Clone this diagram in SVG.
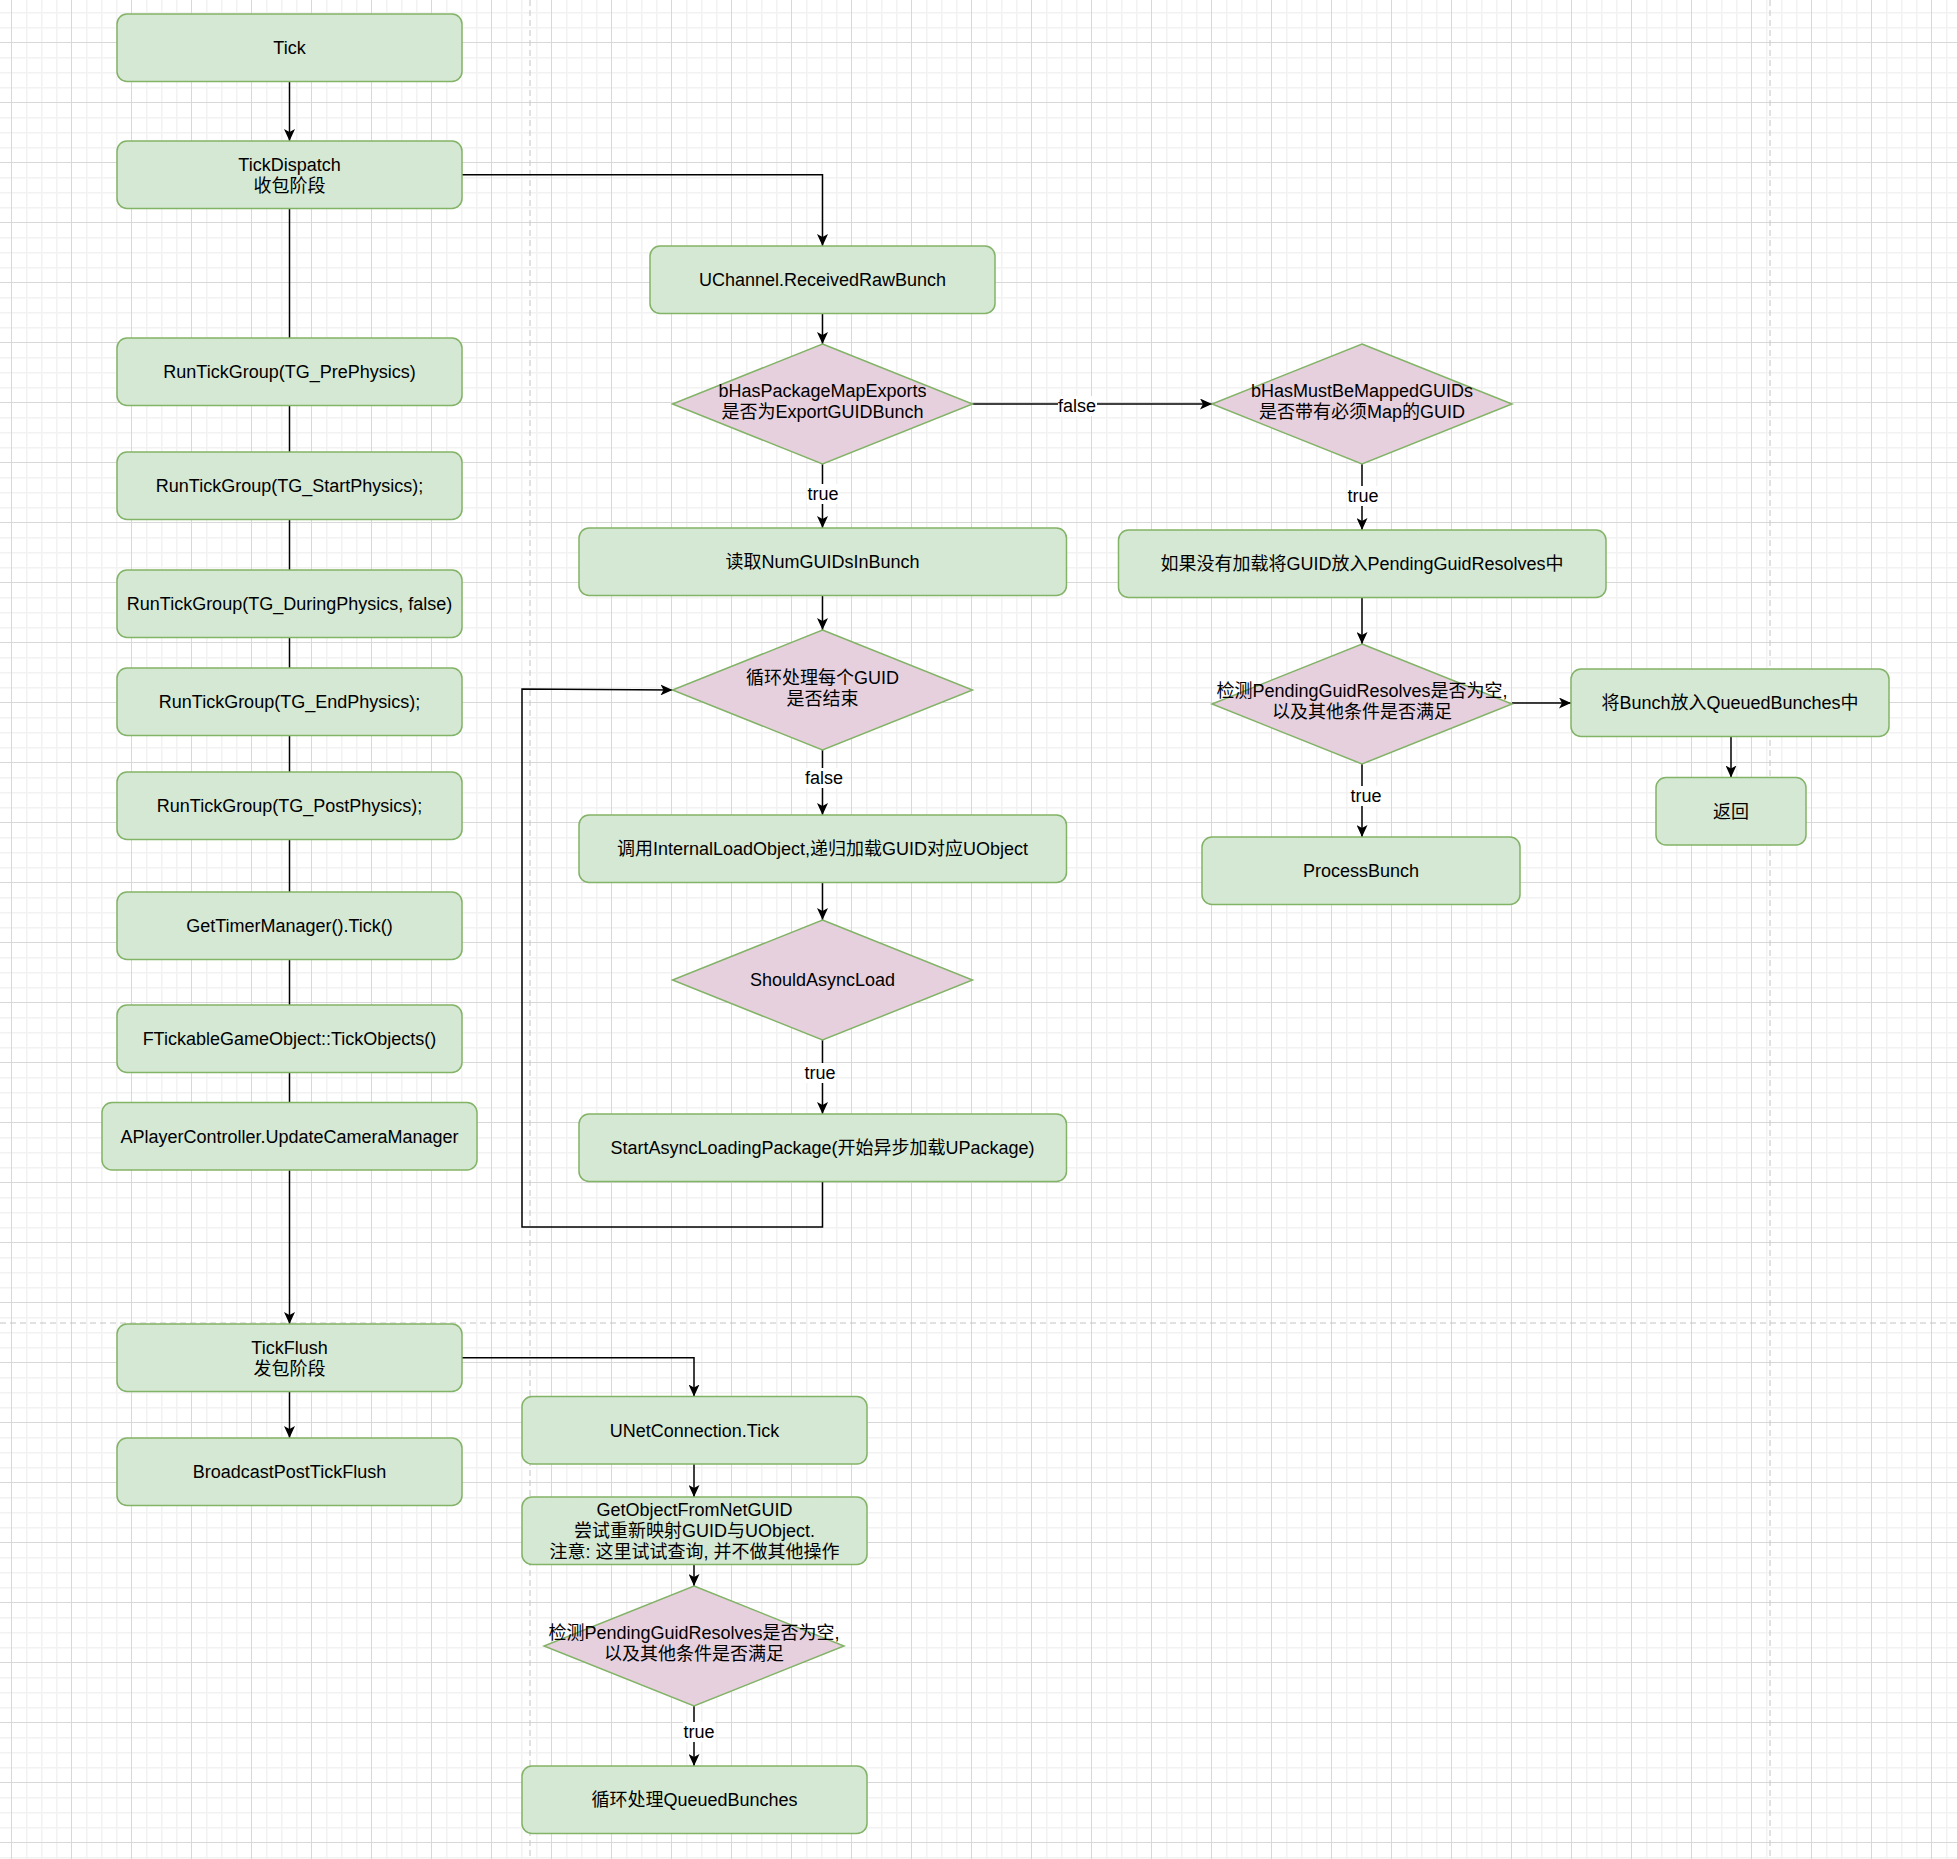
<svg xmlns="http://www.w3.org/2000/svg" width="1957" height="1859" viewBox="0 0 1957 1859">
<defs>
<pattern id="grid" x="11" y="42" width="60" height="60" patternUnits="userSpaceOnUse">
<rect width="60" height="60" fill="#ffffff"/>
<rect x="15" y="0" width="1.5" height="60" fill="#f2f2f2"/>
<rect x="30" y="0" width="1.5" height="60" fill="#f2f2f2"/>
<rect x="45" y="0" width="1.5" height="60" fill="#f2f2f2"/>
<rect x="0" y="15" width="60" height="1.5" fill="#f2f2f2"/>
<rect x="0" y="30" width="60" height="1.5" fill="#f2f2f2"/>
<rect x="0" y="45" width="60" height="1.5" fill="#f2f2f2"/>
<rect x="0" y="0" width="1" height="60" fill="#d8d8d8"/>
<rect x="0" y="0" width="60" height="1" fill="#d8d8d8"/>
</pattern>
<marker id="arr" viewBox="0 0 12 11" markerWidth="12" markerHeight="11" refX="12" refY="5.5" orient="auto" markerUnits="userSpaceOnUse">
<path d="M0,0 L12,5.5 L0,11 L3,5.5 Z" fill="#000"/>
</marker>
</defs>
<style>
.box{fill:#d5e8d4;stroke:#82b366;stroke-width:1.5}
.dia{fill:#e6d0de;stroke:#82b366;stroke-width:1.5}
text{font-family:"Liberation Sans","Noto Sans CJK SC",sans-serif;font-size:18px;text-anchor:middle;fill:#000}
.edge{fill:none;stroke:#000;stroke-width:1.5}
.arrow{marker-end:url(#arr)}
.lbl{fill:#ffffff}
.page{stroke:#c4c4c4;stroke-width:1;stroke-dasharray:6 4;fill:none}
</style>
<rect width="1957" height="1859" fill="url(#grid)"/>
<g id="page-breaks">
<line class="page" x1="530" y1="0" x2="530" y2="1859"/>
<line class="page" x1="1770" y1="0" x2="1770" y2="1859"/>
<line class="page" x1="0" y1="1323" x2="1957" y2="1323"/>
</g>
<g id="connectors">
<path class="edge arrow" d="M289.5,81.5 L289.5,141"/>
<path class="edge arrow" d="M462,174.75 L822.5,174.75 L822.5,246"/>
<path class="edge arrow" d="M289.5,208.5 L289.5,1324"/>
<path class="edge arrow" d="M289.5,1391.5 L289.5,1438"/>
<path class="edge arrow" d="M462,1357.75 L694,1357.75 L694,1396.5"/>
<path class="edge arrow" d="M694,1464 L694,1497"/>
<path class="edge arrow" d="M694,1564.5 L694,1586"/>
<path class="edge arrow" d="M694,1706 L694,1766"/>
<path class="edge arrow" d="M822.5,313.5 L822.5,344"/>
<path class="edge arrow" d="M822.5,464 L822.5,528"/>
<path class="edge arrow" d="M972.5,404 L1212,404"/>
<path class="edge arrow" d="M822.5,595.5 L822.5,630"/>
<path class="edge arrow" d="M822.5,750 L822.5,815"/>
<path class="edge arrow" d="M822.5,882.5 L822.5,920"/>
<path class="edge arrow" d="M822.5,1040 L822.5,1114"/>
<path class="edge arrow" d="M822.5,1182 L822.5,1227 L522,1227 L522,689 L672.5,690"/>
<path class="edge arrow" d="M1362,464 L1362,530"/>
<path class="edge arrow" d="M1362,598 L1362,644"/>
<path class="edge arrow" d="M1512,703 L1571,703"/>
<path class="edge arrow" d="M1731,736.5 L1731,777.5"/>
<path class="edge arrow" d="M1362,764 L1362,837"/>
<g id="edge-labels">
<rect class="lbl" x="807" y="484" width="32" height="20"/>
<text x="823" y="500">true</text>
<rect class="lbl" x="1058" y="396" width="39" height="20"/>
<text x="1077" y="412">false</text>
<rect class="lbl" x="1347" y="486" width="32" height="20"/>
<text x="1363" y="502">true</text>
<rect class="lbl" x="804" y="768" width="39" height="20"/>
<text x="824" y="784">false</text>
<rect class="lbl" x="804" y="1063" width="32" height="20"/>
<text x="820" y="1079">true</text>
<rect class="lbl" x="1350" y="786" width="32" height="20"/>
<text x="1366" y="802">true</text>
<rect class="lbl" x="683" y="1722" width="32" height="20"/>
<text x="699" y="1738">true</text>
</g>
</g>
<g id="n-tick"><rect class="box" x="117" y="14" width="345" height="67.5" rx="10"/><text x="289.5" y="54">Tick</text></g>
<g id="n-tickdispatch"><rect class="box" x="117" y="141" width="345" height="67.5" rx="10"/><text x="289.5" y="170.5">TickDispatch</text><text x="289.5" y="191.5">收包阶段</text></g>
<g id="n-prephysics"><rect class="box" x="117" y="338" width="345" height="67.5" rx="10"/><text x="289.5" y="378">RunTickGroup(TG_PrePhysics)</text></g>
<g id="n-startphysics"><rect class="box" x="117" y="452" width="345" height="67.5" rx="10"/><text x="289.5" y="492">RunTickGroup(TG_StartPhysics);</text></g>
<g id="n-duringphysics"><rect class="box" x="117" y="570" width="345" height="67.5" rx="10"/><text x="289.5" y="610">RunTickGroup(TG_DuringPhysics, false)</text></g>
<g id="n-endphysics"><rect class="box" x="117" y="668" width="345" height="67.5" rx="10"/><text x="289.5" y="708">RunTickGroup(TG_EndPhysics);</text></g>
<g id="n-postphysics"><rect class="box" x="117" y="772" width="345" height="67.5" rx="10"/><text x="289.5" y="812">RunTickGroup(TG_PostPhysics);</text></g>
<g id="n-timer"><rect class="box" x="117" y="892" width="345" height="67.5" rx="10"/><text x="289.5" y="932">GetTimerManager().Tick()</text></g>
<g id="n-tickable"><rect class="box" x="117" y="1005" width="345" height="67.5" rx="10"/><text x="289.5" y="1045">FTickableGameObject::TickObjects()</text></g>
<g id="n-camera"><rect class="box" x="102" y="1102.5" width="375" height="67.5" rx="10"/><text x="289.5" y="1142.5">APlayerController.UpdateCameraManager</text></g>
<g id="n-tickflush"><rect class="box" x="117" y="1324" width="345" height="67.5" rx="10"/><text x="289.5" y="1353.5">TickFlush</text><text x="289.5" y="1374.5">发包阶段</text></g>
<g id="n-broadcast"><rect class="box" x="117" y="1438" width="345" height="67.5" rx="10"/><text x="289.5" y="1478">BroadcastPostTickFlush</text></g>
<g id="n-netconn"><rect class="box" x="522" y="1396.5" width="345" height="67.5" rx="10"/><text x="694.5" y="1436.5">UNetConnection.Tick</text></g>
<g id="n-getobject"><rect class="box" x="522" y="1497" width="345" height="67.5" rx="10"/><text x="694.5" y="1516">GetObjectFromNetGUID</text><text x="694.5" y="1537">尝试重新映射GUID与UObject.</text><text x="694.5" y="1558">注意: 这里试试查询, 并不做其他操作</text></g>
<g id="n-check2"><polygon class="dia" points="694,1586 844,1646 694,1706 544,1646"/><text x="694" y="1639">检测PendingGuidResolves是否为空,</text><text x="694" y="1660">以及其他条件是否满足</text></g>
<g id="n-queued"><rect class="box" x="522" y="1766" width="345" height="67.5" rx="10"/><text x="694.5" y="1806">循环处理QueuedBunches</text></g>
<g id="n-uchannel"><rect class="box" x="650" y="246" width="345" height="67.5" rx="10"/><text x="822.5" y="286">UChannel.ReceivedRawBunch</text></g>
<g id="n-haspkg"><polygon class="dia" points="822.5,344 972.5,404 822.5,464 672.5,404"/><text x="822.5" y="397">bHasPackageMapExports</text><text x="822.5" y="418">是否为ExportGUIDBunch</text></g>
<g id="n-readnum"><rect class="box" x="579" y="528" width="487.5" height="67.5" rx="10"/><text x="822.5" y="568">读取NumGUIDsInBunch</text></g>
<g id="n-loop"><polygon class="dia" points="822.5,630 972.5,690 822.5,750 672.5,690"/><text x="822.5" y="684">循环处理每个GUID</text><text x="822.5" y="705">是否结束</text></g>
<g id="n-internalload"><rect class="box" x="579" y="815" width="487.5" height="67.5" rx="10"/><text x="822.5" y="855">调用InternalLoadObject,递归加载GUID对应UObject</text></g>
<g id="n-shouldasync"><polygon class="dia" points="822.5,920 972.5,980 822.5,1040 672.5,980"/><text x="822.5" y="986">ShouldAsyncLoad</text></g>
<g id="n-startasync"><rect class="box" x="579" y="1114" width="487.5" height="67.5" rx="10"/><text x="822.5" y="1154">StartAsyncLoadingPackage(开始异步加载UPackage)</text></g>
<g id="n-hasmust"><polygon class="dia" points="1362,344 1512,404 1362,464 1212,404"/><text x="1362" y="397">bHasMustBeMappedGUIDs</text><text x="1362" y="418">是否带有必须Map的GUID</text></g>
<g id="n-pending"><rect class="box" x="1118.5" y="530" width="487.5" height="67.5" rx="10"/><text x="1362" y="570">如果没有加载将GUID放入PendingGuidResolves中</text></g>
<g id="n-check1"><polygon class="dia" points="1362,644 1512,704 1362,764 1212,704"/><text x="1362" y="697">检测PendingGuidResolves是否为空,</text><text x="1362" y="718">以及其他条件是否满足</text></g>
<g id="n-enqueue"><rect class="box" x="1571" y="669" width="318" height="67.5" rx="10"/><text x="1730" y="709">将Bunch放入QueuedBunches中</text></g>
<g id="n-return"><rect class="box" x="1656" y="777.5" width="150" height="67.5" rx="10"/><text x="1731" y="817.5">返回</text></g>
<g id="n-process"><rect class="box" x="1202" y="837" width="318" height="67.5" rx="10"/><text x="1361" y="877">ProcessBunch</text></g>
</svg>
